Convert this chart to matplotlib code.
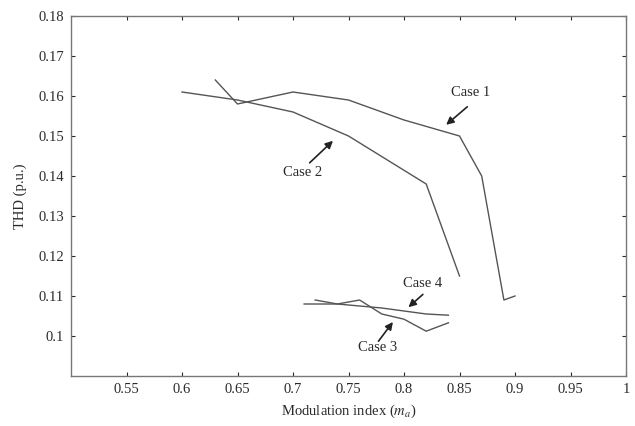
import matplotlib

matplotlib.use("Agg")
import matplotlib.pyplot as plt

plt.rcParams["font.family"] = ["Liberation Serif", "DejaVu Serif"]
plt.rcParams["mathtext.fontset"] = "stix"

# THD vs modulation index, four cases
case1_m = [0.63, 0.65, 0.70, 0.75, 0.80, 0.85, 0.87, 0.89, 0.90]
case1_thd = [0.164, 0.158, 0.161, 0.159, 0.154, 0.150, 0.140, 0.109, 0.110]

case2_m = [0.60, 0.65, 0.70, 0.75, 0.82, 0.85]
case2_thd = [0.161, 0.159, 0.156, 0.150, 0.138, 0.115]

case3_m = [0.72, 0.74, 0.76, 0.78, 0.80, 0.82, 0.84]
case3_thd = [0.109, 0.108, 0.109, 0.1055, 0.1042, 0.1012, 0.1033]

case4_m = [0.71, 0.74, 0.78, 0.82, 0.84]
case4_thd = [0.108, 0.108, 0.107, 0.1055, 0.1052]

xticks = [0.55, 0.6, 0.65, 0.7, 0.75, 0.8, 0.85, 0.9, 0.95, 1.0]
xtick_labels = ["0.55", "0.6", "0.65", "0.7", "0.75", "0.8", "0.85", "0.9", "0.95", "1"]
yticks = [0.10, 0.11, 0.12, 0.13, 0.14, 0.15, 0.16, 0.17, 0.18]
ytick_labels = ["0.1", "0.11", "0.12", "0.13", "0.14", "0.15", "0.16", "0.17", "0.18"]

# (label, text position, arrow tail, arrow head)
notes = [
    ("Case 1", (0.860, 0.1608), (0.857, 0.1573), (0.838, 0.1528)),
    ("Case 2", (0.709, 0.1409), (0.715, 0.1433), (0.736, 0.1488)),
    ("Case 3", (0.776, 0.0972), (0.777, 0.0987), (0.790, 0.1035)),
    ("Case 4", (0.817, 0.1132), (0.817, 0.1104), (0.804, 0.1072)),
]

line_col = "#555555"
txt_col = "#2a2a2a"
fs = 10.5

fig = plt.figure(figsize=(6.35, 4.26), dpi=100)
ax = fig.add_axes([71 / 635, 1 - 376 / 426, (626 - 71) / 635, (376 - 16) / 426])

for xs, ys in [(case1_m, case1_thd), (case2_m, case2_thd),
               (case3_m, case3_thd), (case4_m, case4_thd)]:
    ax.plot(xs, ys, color=line_col, lw=1.0)

for label, txt, tail, head in notes:
    ax.text(*txt, label, ha="center", va="center", fontsize=fs, color=txt_col)
    ax.annotate("", xy=head, xytext=tail,
                arrowprops=dict(arrowstyle="-|>", color="#222222", lw=1.2,
                                mutation_scale=11, shrinkA=0, shrinkB=0))

ax.set_xlim(0.5, 1.0)
ax.set_ylim(0.09, 0.18)
ax.set_xticks(xticks)
ax.set_xticklabels(xtick_labels)
ax.set_yticks(yticks)
ax.set_yticklabels(ytick_labels)
ax.tick_params(direction="in", length=3, labelsize=fs, colors=txt_col,
               top=True, right=True, width=0.8, pad=5)
for s in ax.spines.values():
    s.set_color("#777777")
    s.set_linewidth(1.0)
ax.set_xlabel("Modulation index ($m_a$)", fontsize=fs, color=txt_col, labelpad=5)
ax.set_ylabel("THD (p.u.)", fontsize=fs, color=txt_col, labelpad=8)

fig.savefig("out.png", dpi=100)
